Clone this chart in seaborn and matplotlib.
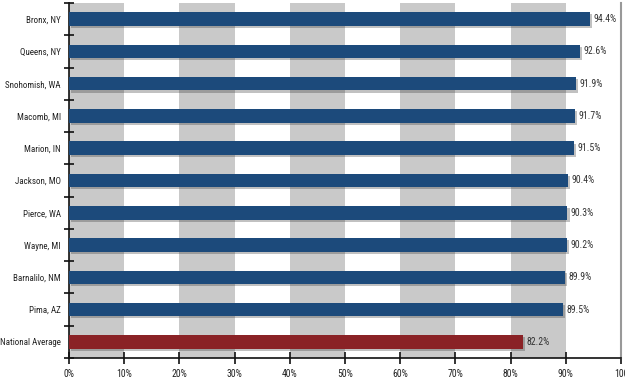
import matplotlib
matplotlib.use("Agg")
import matplotlib.pyplot as plt
import matplotlib.patheffects as pe
import matplotlib.font_manager as fm
from matplotlib.font_manager import FontProperties
import seaborn as sns
import pandas as pd
from matplotlib.ticker import FixedLocator

categories = ["Bronx, NY", "Queens, NY", "Snohomish, WA", "Macomb, MI", "Marion, IN",
              "Jackson, MO", "Pierce, WA", "Wayne, MI", "Barnalilo, NM", "Pima, AZ",
              "National Average"]
values = [94.4, 92.6, 91.9, 91.7, 91.5, 90.4, 90.3, 90.2, 89.9, 89.5, 82.2]
groups = ["county"] * 10 + ["national"]
tick_labels = ["0%", "10%", "20%", "30%", "40%", "50%", "60%", "70%", "80%", "90%", "100"]

df = pd.DataFrame({"category": categories, "value": values, "group": groups})

sns.set_theme(style="white")


def pick_font():
    for fam in ["Liberation Sans Narrow", "Roboto Condensed", "Open Sans Condensed",
                "Noto Sans", "DejaVu Sans", "Liberation Sans"]:
        try:
            path = fm.findfont(FontProperties(family=fam, stretch="condensed"),
                               fallback_to_default=False)
        except Exception:
            continue
        low = path.lower()
        if "narrow" in low or "condensed" in low:
            return fam, "condensed", 7.0, 6.5
    return "Liberation Sans", "normal", 6.0, 5.6


fam, stretch, fsize, ysize = pick_font()
plt.rcParams["font.family"] = [fam, "DejaVu Sans"]
plt.rcParams["font.stretch"] = stretch

fig = plt.figure(figsize=(6.25, 3.8), dpi=100)
ax = fig.add_axes([0.1104, 0.058, 0.8832, 0.934])

before = len(ax.patches)
sns.barplot(data=df, y="category", x="value", hue="group", orient="h",
            palette={"county": "#1c4a7b", "national": "#8a2226"},
            dodge=False, width=0.42, legend=False, ax=ax, zorder=3, saturation=1,
            linewidth=0)
bars = list(ax.patches)[before:]
for p in bars:
    p.set_path_effects([pe.SimplePatchShadow(offset=(1.5, -1.5), alpha=0.3,
                                             shadow_rgbFace="#333333"), pe.Normal()])

for i in range(0, 100, 20):
    ax.axvspan(i, i + 10, color="#c9c9c9", zorder=0, lw=0)

for i, v in enumerate(values):
    ax.text(v + 0.6, i, f"{v:.1f}%", va="center", ha="left", fontsize=fsize,
            color="#333333", zorder=4)

ax.set_xlim(0, 100)
ax.set_ylim(len(categories) - 0.5, -0.5)
ax.set_xticks(range(0, 101, 10))
ax.set_xticklabels(tick_labels)
ax.set_xlabel("")
ax.set_ylabel("")
ax.yaxis.set_minor_locator(FixedLocator([i - 0.5 for i in range(len(categories) + 1)]))
ax.tick_params(axis="y", which="major", length=0, labelsize=ysize, pad=6, labelcolor="#222222")
ax.tick_params(axis="y", which="minor", length=7, width=1.2, direction="inout",
               color="#111111", left=True)
ax.tick_params(axis="x", which="major", length=8, width=1.2, direction="inout",
               color="#111111", labelsize=fsize, pad=4, labelcolor="#222222", bottom=True)

ax.spines["top"].set_visible(False)
ax.spines["left"].set_color("#111111")
ax.spines["left"].set_linewidth(1.2)
ax.spines["bottom"].set_color("#111111")
ax.spines["bottom"].set_linewidth(1.2)
ax.spines["right"].set_color("#999999")
ax.spines["right"].set_linewidth(1.5)

fig.savefig("out.png", dpi=100)
